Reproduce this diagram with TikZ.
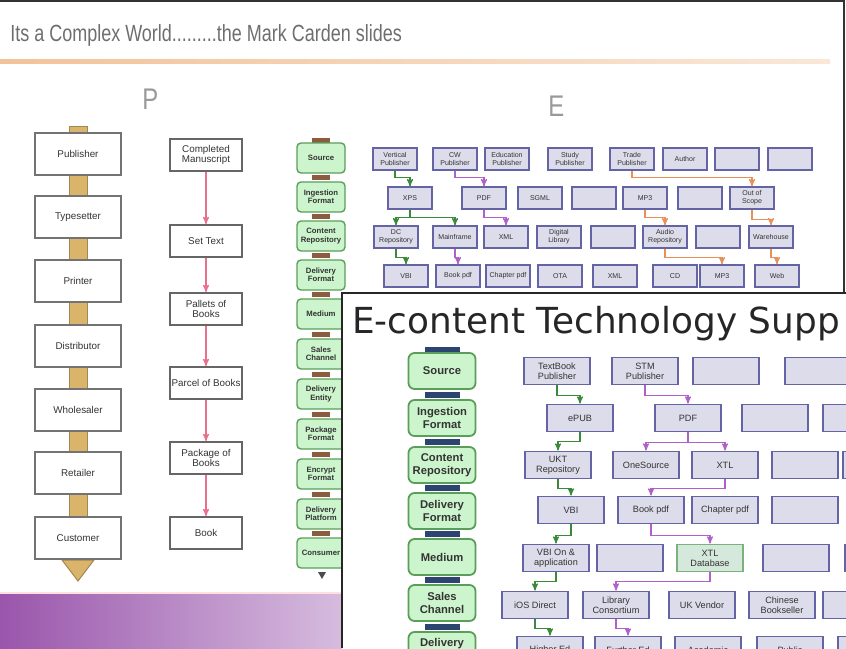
\documentclass[tikz,border=0pt]{standalone}
\usepackage{fontspec}
\setmainfont{Liberation Sans}
\newfontfamily\slidefont{DejaVu Sans}
\usepackage{graphicx}
\usetikzlibrary{arrows,positioning}

\definecolor{titlegray}{HTML}{6E6E6E}
\definecolor{peach}{HTML}{F2C39A}
\definecolor{tan}{HTML}{D9B46A}
\definecolor{pinkred}{HTML}{E8708A}
\definecolor{mint}{HTML}{CDF5CD}
\definecolor{mintdraw}{HTML}{5A9E5A}
\definecolor{tabbrown}{HTML}{8C5C40}
\definecolor{tabnavy}{HTML}{2C4470}
\definecolor{lav}{HTML}{DCDCEA}
\definecolor{lavdraw}{HTML}{6464A4}
\definecolor{linegreen}{HTML}{3A8A3A}
\definecolor{linepurple}{HTML}{B060C8}
\definecolor{lineorange}{HTML}{E8905A}
\definecolor{bandleft}{HTML}{9A56AC}
\definecolor{bandright}{HTML}{D6BCDE}

\begin{document}
\begin{tikzpicture}
    [
      x=0.25mm, y=-0.25mm,
      every node/.style={align=center, inner sep=0.4mm, text=black!80},
      pbox/.style={draw=black!55, fill=white, line width=0.45mm, minimum width=21.5mm, minimum height=10.5mm, font=\fontsize{7}{8}\selectfont},
      tbox/.style={draw=black!60, fill=white, line width=0.45mm, minimum width=18mm, minimum height=8mm, font=\fontsize{7}{7.5}\selectfont},
      gbox/.style={draw=mintdraw, fill=mint, line width=0.35mm, rounded corners=1mm, minimum width=12mm, minimum height=7.5mm, font=\bfseries\fontsize{5.5}{6}\selectfont},
      ogbox/.style={draw=mintdraw, fill=mint, line width=0.45mm, rounded corners=1.5mm, minimum width=16.75mm, minimum height=9mm, font=\bfseries\fontsize{8}{9}\selectfont},
      ebox/.style={draw=lavdraw, fill=lav, line width=0.35mm, minimum width=11mm, minimum height=5.5mm, font=\fontsize{5}{5.5}\selectfont},
      obox/.style={draw=lavdraw, fill=lav, line width=0.45mm, minimum width=16.5mm, minimum height=6.75mm, font=\fontsize{6.5}{7}\selectfont},
      gobox/.style={obox, draw=mintdraw!80, fill=lav!50!mint},
      pline/.style={->,>=stealth',draw=pinkred,line width=0.3mm},
      gline/.style={->,>=stealth',draw=linegreen,line width=0.3mm},
      vline/.style={->,>=stealth',draw=linepurple,line width=0.3mm},
      oline/.style={->,>=stealth',draw=lineorange,line width=0.3mm},
    ]

    \useasboundingbox (0,0) rectangle (846,648);

    % back slide
    \draw [black!80, line width=0.5mm] (0,1) -- (844,1) -- (844,292);
    \node (title) [anchor=base west, inner sep=0, text=titlegray, font=\fontsize{12.8}{15}\selectfont] at (10,42)
      {\scalebox{1}[1.3]{Its a Complex World.........the Mark Carden slides}};
    \shade [left color=peach, right color=peach!40] (0,60) rectangle (830,64);
    \node (plabel) [anchor=base west, inner sep=0, text=black!40, font=\fontsize{17}{18}\selectfont] at (142,110) {\scalebox{1}[1.25]{P}};
    \node (elabel) [anchor=base west, inner sep=0, text=black!40, font=\fontsize{17}{18}\selectfont] at (548,117) {\scalebox{1}[1.25]{E}};

    % P: supply chain
    \filldraw [fill=tan, draw=tan!75!black, line width=0.25mm] (69,127) rectangle (87,560);
    \filldraw [fill=tan, draw=tan!75!black, line width=0.25mm] (62,560) -- (94,560) -- (78,581) -- cycle;
    \node (pub) [pbox] at (78,154) {Publisher};
    \node (typ) [pbox] at (78,217) {Typesetter};
    \node (prn) [pbox] at (78,281) {Printer};
    \node (dist) [pbox] at (78,346) {Distributor};
    \node (whs) [pbox] at (78,410) {Wholesaler};
    \node (ret) [pbox] at (78,473) {Retailer};
    \node (cust) [pbox] at (78,538) {Customer};

    \node (ms) [tbox] at (206,155) {Completed\\Manuscript};
    \node (settext) [tbox] at (206,241) {Set Text};
    \node (pallets) [tbox] at (206,309) {Pallets of\\Books};
    \node (parcel) [tbox] at (206,383) {Parcel of Books};
    \node (package) [tbox] at (206,458) {Package of\\Books};
    \node (book) [tbox] at (206,533) {Book};

    \path
    (ms) edge [pline] (settext)
    (settext) edge [pline] (pallets)
    (pallets) edge [pline] (parcel)
    (parcel) edge [pline] (package)
    (package) edge [pline] (book)
    ;

    % E: chain of stages
    \foreach \y in {138,175,214,253,292,332,372,412,452,492,531}
      \fill [tabbrown] (312,\y) rectangle ++(18,5);
    \node (src) [gbox] at (321,158) {Source};
    \node (ing) [gbox] at (321,197) {Ingestion\\Format};
    \node (crep) [gbox] at (321,236) {Content\\Repository};
    \node (dfmt) [gbox] at (321,275) {Delivery\\Format};
    \node (med) [gbox] at (321,314) {Medium};
    \node (sch) [gbox] at (321,354) {Sales\\Channel};
    \node (dent) [gbox] at (321,394) {Delivery\\Entity};
    \node (pfmt) [gbox] at (321,434) {Package\\Format};
    \node (efmt) [gbox] at (321,474) {Encrypt\\Format};
    \node (dplat) [gbox] at (321,514) {Delivery\\Platform};
    \node (cons) [gbox] at (321,553) {Consumer};
    \fill [black!70] (318,572) -- (326,572) -- (322,579) -- cycle;

    \node (va) [ebox] at (395,159) {Vertical\\Publisher};
    \node (cw) [ebox] at (455,159) {CW\\Publisher};
    \node (edp) [ebox] at (507,159) {Education\\Publisher};
    \node (stp) [ebox] at (570,159) {Study\\Publisher};
    \node (trp) [ebox] at (632,159) {Trade\\Publisher};
    \node (au) [ebox] at (685,159) {Author};
    \node (e17) [ebox] at (737,159) {};
    \node (e18) [ebox] at (790,159) {};

    \node (xps) [ebox] at (410,198) {XPS};
    \node (pdf) [ebox] at (484,198) {PDF};
    \node (sgml) [ebox] at (540,198) {SGML};
    \node (e24) [ebox] at (594,198) {};
    \node (mp3) [ebox] at (645,198) {MP3};
    \node (e26) [ebox] at (700,198) {};
    \node (oos) [ebox] at (752,198) {Out of\\Scope};

    \node (dcr) [ebox] at (396,237) {DC\\Repository};
    \node (mf) [ebox] at (455,237) {Mainframe};
    \node (xml) [ebox] at (506,237) {XML};
    \node (dl) [ebox] at (559,237) {Digital\\Library};
    \node (e35) [ebox] at (613,237) {};
    \node (aur) [ebox] at (665,237) {Audio\\Repository};
    \node (e37) [ebox] at (718,237) {};
    \node (wh) [ebox] at (771,237) {Warehouse};

    \node (vbi) [ebox] at (406,276) {VBI};
    \node (bpdf) [ebox] at (458,276) {Book pdf};
    \node (cpdf) [ebox] at (508,276) {Chapter pdf};
    \node (ota) [ebox] at (560,276) {OTA};
    \node (xmlb) [ebox] at (615,276) {XML};
    \node (cd) [ebox] at (675,276) {CD};
    \node (mp3b) [ebox] at (722,276) {MP3};
    \node (web) [ebox] at (777,276) {Web};

    \draw [gline] (va.south) -- ++(0,7) -| (xps.north);
    \draw [vline] (cw.south) -- ++(0,7) -| (pdf.north);
    \draw [oline] (trp.south) -- ++(0,7) -| (oos.north);
    \draw [gline] (xps.south) -- ++(0,8) -| (dcr.north);
    \draw [gline] (xps.south) -- ++(0,8) -| (mf.north);
    \draw [vline] (pdf.south) -- ++(0,8) -| (xml.north);
    \draw [oline] (mp3.south) -- ++(0,8) -| (aur.north);
    \draw [oline] (oos.south) -- ++(0,10) -| (wh.north);
    \draw [gline] (dcr.south) -- ++(0,9) -| (vbi.north);
    \draw [vline] (mf.south) -- ++(0,9) -| (bpdf.north);
    \draw [oline] (aur.south) -- ++(0,9) -| (mp3b.north);
    \draw [oline] (wh.south) -- ++(0,9) -| (web.north);

    % purple band
    \shade [left color=bandleft, right color=bandright] (0,593) rectangle (342,648);
    \draw [pink!50, line width=0.4mm] (0,593) -- (342,593);

    % front slide
    \fill [white] (342,293) rectangle (846,648);
    \draw [black!85, line width=0.5mm] (342,648) -- (342,293) -- (846,293);
    \begin{scope}
      \clip (343,294) rectangle (846,648);
      \node (otitle) [anchor=base west, inner sep=0, text=black!85, font=\slidefont\fontsize{25.5}{30}\selectfont] at (352,333) {E-content Technology Supp};

      \foreach \y in {347,392,439,485,531,577,624}
        \fill [tabnavy] (425,\y) rectangle ++(35,6);
      \node (osrc) [ogbox] at (442,371) {Source};
      \node (oing) [ogbox] at (442,418) {Ingestion\\Format};
      \node (ocrep) [ogbox] at (442,465) {Content\\Repository};
      \node (odfmt) [ogbox] at (442,511) {Delivery\\Format};
      \node (omed) [ogbox] at (442,557) {Medium};
      \node (osch) [ogbox] at (442,603) {Sales\\Channel};
      \node (odel) [ogbox] at (442,650) {Delivery\\Entity};

      \node (tbp) [obox] at (557,371) {TextBook\\Publisher};
      \node (stm) [obox] at (645,371) {STM\\Publisher};
      \node (o13) [obox] at (726,371) {};
      \node (o14) [obox] at (818,371) {};

      \node (epub) [obox] at (580,418) {ePUB};
      \node (opdf) [obox] at (688,418) {PDF};
      \node (o23) [obox] at (775,418) {};
      \node (o24) [obox] at (856,418) {};

      \node (ukt) [obox] at (558,465) {UKT\\Repository};
      \node (ones) [obox] at (646,465) {OneSource};
      \node (xtl) [obox] at (725,465) {XTL};
      \node (o34) [obox] at (805,465) {};
      \node (o35) [obox] at (876,465) {};

      \node (ovbi) [obox] at (571,510) {VBI};
      \node (obpdf) [obox] at (651,510) {Book pdf};
      \node (ocpdf) [obox] at (725,510) {Chapter pdf};
      \node (o44) [obox] at (805,510) {};

      \node (vbion) [obox] at (556,558) {VBI On \&\\application};
      \node (o52) [obox] at (630,558) {};
      \node (xtldb) [gobox] at (710,558) {XTL\\Database};
      \node (o54) [obox] at (796,558) {};
      \node (o55) [obox] at (878,558) {};

      \node (ios) [obox] at (535,605) {iOS Direct};
      \node (lib) [obox] at (616,605) {Library\\Consortium};
      \node (ukv) [obox] at (702,605) {UK Vendor};
      \node (chb) [obox] at (782,605) {Chinese\\Bookseller};
      \node (o65) [obox] at (856,605) {};

      \node (hed) [obox] at (550,650) {Higher Ed};
      \node (fed) [obox] at (628,650) {Further Ed};
      \node (aca) [obox] at (708,650) {Academic};
      \node (pub2) [obox] at (790,650) {Public};
      \node (o75) [obox] at (871,650) {};

      \draw [gline] (tbp.south) -- ++(0,10) -| (epub.north);
      \draw [vline] (stm.south) -- ++(0,10) -| (opdf.north);
      \draw [gline] (epub.south) -- ++(0,9) -| (ukt.north);
      \draw [vline] (opdf.south) -- ++(0,10) -| (ones.north);
      \draw [vline] (opdf.south) -- ++(0,10) -| (xtl.north);
      \draw [gline] (ukt.south) -- ++(0,9) -| (ovbi.north);
      \draw [vline] (xtl.south) -- ++(0,9) -| (obpdf.north);
      \draw [gline] (ovbi.south) -- ++(0,11) -| (vbion.north);
      \draw [vline] (obpdf.south) -- ++(0,11) -| (xtldb.north);
      \draw [gline] (vbion.south) -- ++(0,9) -| (ios.north);
      \draw [vline] (xtldb.south) -- ++(0,9) -| (lib.north);
      \draw [gline] (ios.south) -- ++(0,9) -| (hed.north);
      \draw [vline] (lib.south) -- ++(0,9) -| (fed.north);
    \end{scope}

  \end{tikzpicture}
\end{document}
